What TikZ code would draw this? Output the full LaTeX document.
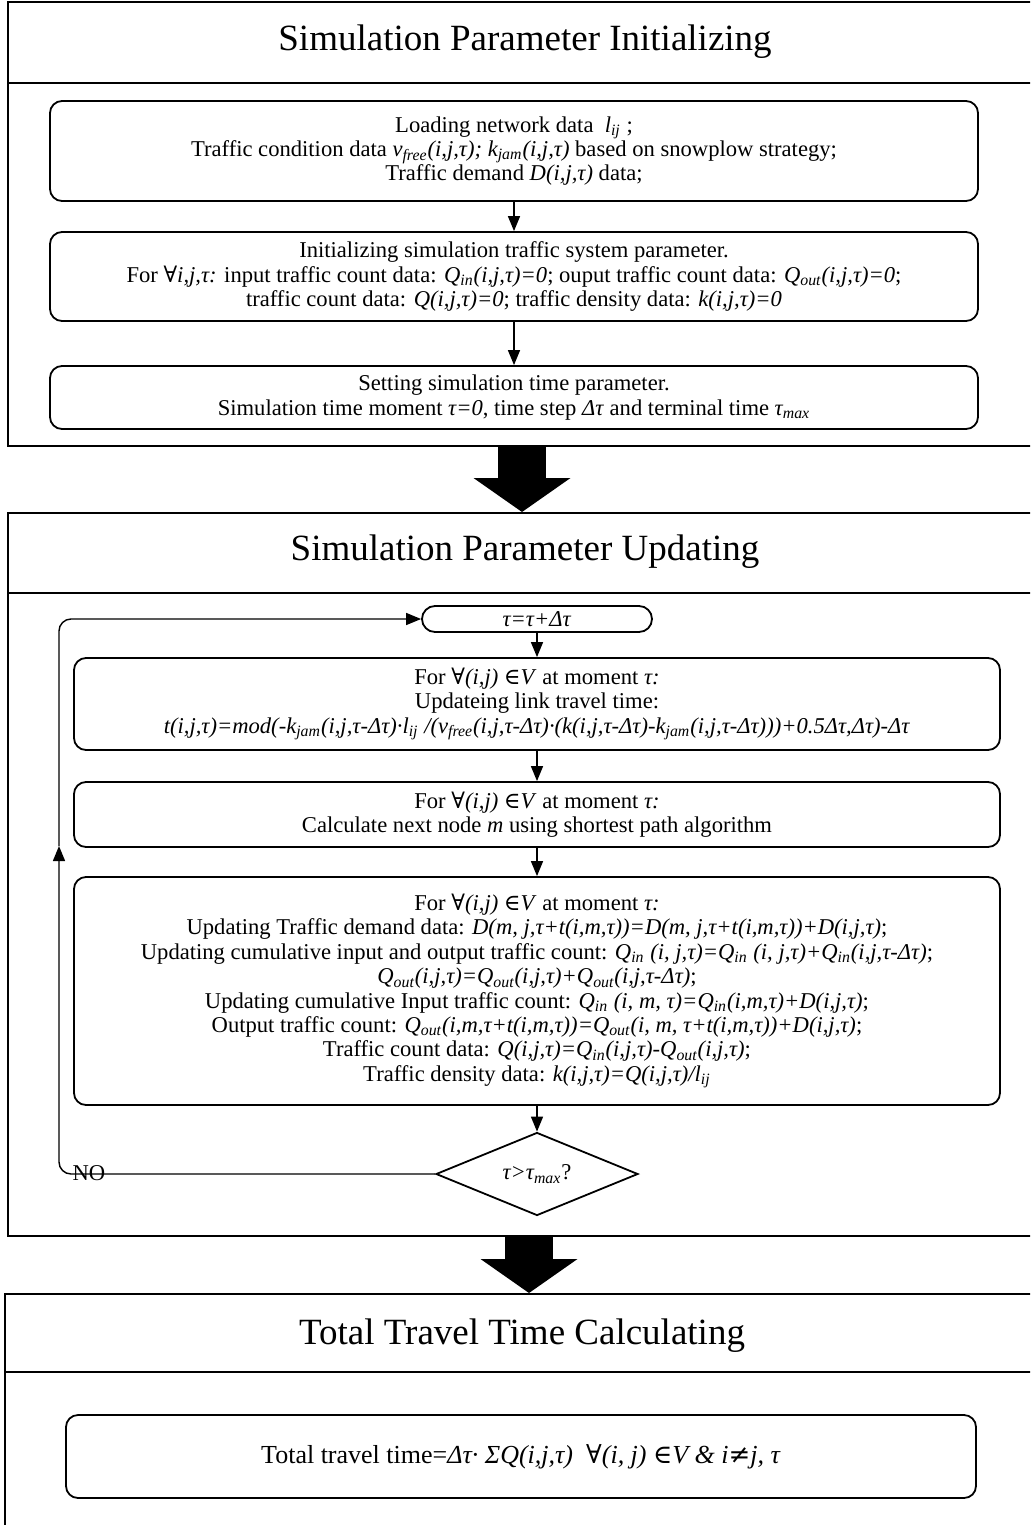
\documentclass[tikz,border=0pt]{standalone}
\usepackage{fontspec}
\setmainfont{Liberation Serif}
\newfontfamily\symf{DejaVu Serif}
\usepackage{tikz}
\usetikzlibrary{shapes.geometric, arrows.meta}

\newcommand{\sbs}[1]{\textsubscript{#1}}
\newcommand{\fa}{{\symf ∀}}
\newcommand{\inV}{{\symf ∈}}
\newcommand{\nq}{{\symf ≠}}

\begin{document}
\begin{tikzpicture}[x=0.5pt, y=-0.5pt,
  stage/.style={draw, line width=1pt, inner sep=0pt},
  stagetitle/.style={font=\fontsize{18.5pt}{22pt}\selectfont},
  procbox/.style={draw, line width=0.9pt, rounded corners=6pt, align=center,
    inner sep=0pt, font=\fontsize{11.3pt}{12.2pt}\selectfont},
  decision/.style={draw, diamond, aspect=2.4, line width=0.9pt, inner sep=0pt,
    minimum width=101pt, minimum height=41.5pt, font=\fontsize{11.3pt}{12.2pt}\selectfont},
  flow/.style={line width=0.7pt, -{Triangle[length=7.5pt,width=6pt]}},
  bigarrow/.style={line width=24pt, -{Triangle[length=17pt,width=48.5pt,line width=0pt]}}
]
\clip (0,0) rectangle (1030,1525);

% Stage 1: initializing
\node[stage, minimum width=517pt, minimum height=222pt] (init) at (525,224) {};
\node[stagetitle] (initT) at (525,42) {Simulation Parameter Initializing};
\draw[line width=1pt] (init.west |- 0,83) -- (init.east |- 0,83);

\node[procbox, minimum width=464pt, minimum height=50pt] (load) at (514,151)
  {Loading network data \ \textit{l\sbs{ij}} ;\\
   Traffic condition data \textit{v\sbs{free}(i,j,τ); k\sbs{jam}(i,j,τ)} based on snowplow strategy;\\
   Traffic demand \textit{D(i,j,τ)} data;};
\node[procbox, minimum width=464pt, minimum height=44.5pt] (initpar) at (514,276.5)
  {Initializing simulation traffic system parameter.\\
   For \fa\textit{i,j,τ:} input traffic count data: \textit{Q\sbs{in}(i,j,τ)=0}; ouput traffic count data: \textit{Q\sbs{out}(i,j,τ)=0};\\
   traffic count data: \textit{Q(i,j,τ)=0}; traffic density data: \textit{k(i,j,τ)=0}};
\node[procbox, minimum width=464pt, minimum height=31.5pt] (timepar) at (514,397.5)
  {Setting simulation time parameter.\\
   Simulation time moment \textit{τ=0}, time step \textit{Δτ} and terminal time \textit{τ\sbs{max}}};

\draw[flow] (load.south) -- (initpar.north);
\draw[flow] (initpar.south) -- (timepar.north);

% Stage 2: updating
\node[stage, minimum width=517pt, minimum height=361.5pt] (update) at (525,874.5) {};
\node[stagetitle] (updateT) at (525,552) {Simulation Parameter Updating};
\draw[line width=1pt] (update.west |- 0,593) -- (update.east |- 0,593);

\node[procbox, rounded corners=6.5pt, minimum width=115pt, minimum height=13pt] (tstep) at (537,619)
  {\textit{τ=τ+Δτ}};
\node[procbox, minimum width=463pt, minimum height=46pt] (linkt) at (537,704)
  {For \fa\textit{(i,j)} \inV\textit{V} at moment \textit{τ:}\\
   Updateing link travel time:\\
   \textit{t(i,j,τ)=mod(-k\sbs{jam}(i,j,τ-Δτ)·l\sbs{ij} /(v\sbs{free}(i,j,τ-Δτ)·(k(i,j,τ-Δτ)-k\sbs{jam}(i,j,τ-Δτ)))+0.5Δτ,Δτ)-Δτ}};
\node[procbox, minimum width=463pt, minimum height=32.5pt] (nextn) at (537,814.5)
  {For \fa\textit{(i,j)} \inV\textit{V} at moment \textit{τ:}\\
   Calculate next node \textit{m} using shortest path algorithm};
\node[procbox, minimum width=463pt, minimum height=114pt] (updt) at (537,991)
  {For \fa\textit{(i,j)} \inV\textit{V} at moment \textit{τ:}\\
   Updating Traffic demand data: \textit{D(m, j,τ+t(i,m,τ))=D(m, j,τ+t(i,m,τ))+D(i,j,τ)};\\
   Updating cumulative input and output traffic count: \textit{Q\sbs{in} (i, j,τ)=Q\sbs{in} (i, j,τ)+Q\sbs{in}(i,j,τ-Δτ)};\\
   \textit{Q\sbs{out}(i,j,τ)=Q\sbs{out}(i,j,τ)+Q\sbs{out}(i,j,τ-Δτ)};\\
   Updating cumulative Input traffic count: \textit{Q\sbs{in} (i, m, τ)=Q\sbs{in}(i,m,τ)+D(i,j,τ)};\\
   Output traffic count: \textit{Q\sbs{out}(i,m,τ+t(i,m,τ))=Q\sbs{out}(i, m, τ+t(i,m,τ))+D(i,j,τ)};\\
   Traffic count data: \textit{Q(i,j,τ)=Q\sbs{in}(i,j,τ)-Q\sbs{out}(i,j,τ)};\\
   Traffic density data: \textit{k(i,j,τ)=Q(i,j,τ)/l\sbs{ij}}};
\node[decision] (check) at (537,1174) {\textit{τ>τ\sbs{max}}?};

\draw[flow] (tstep.south) -- (linkt.north);
\draw[flow] (linkt.south) -- (nextn.north);
\draw[flow] (nextn.south) -- (updt.north);
\draw[flow] (updt.south) -- (check.north);

% loop back
\coordinate (lmid) at (59,846);
\draw[flow, rounded corners=6pt] (check.west) -| (lmid);
\draw[flow, rounded corners=6pt] (lmid) |- (tstep.west);
\node[font=\fontsize{11.3pt}{12.2pt}\selectfont] (nolab) at (89,1173) {NO};

% Stage 3: total travel time
\node[stage, minimum width=518.5pt, minimum height=123pt] (total) at (523.5,1417) {};
\node[stagetitle] (totalT) at (522,1336) {Total Travel Time Calculating};
\draw[line width=1pt] (total.west |- 0,1372) -- (total.east |- 0,1372);

\node[procbox, minimum width=455pt, minimum height=41.5pt, font=\fontsize{13pt}{15pt}\selectfont] (ttime) at (521,1456.5)
  {Total travel time=\textit{Δτ· ΣQ(i,j,τ)} \ \fa\textit{(i, j)} \inV\textit{V \& i}\nq\textit{j, τ}};

% stage arrows
\draw[bigarrow] ([xshift=-1.5pt]init.south) -- ([xshift=-1.5pt]init.south |- update.north);
\draw[bigarrow] ([xshift=2pt]update.south) -- ([xshift=2pt]update.south |- total.north);
\end{tikzpicture}
\end{document}
